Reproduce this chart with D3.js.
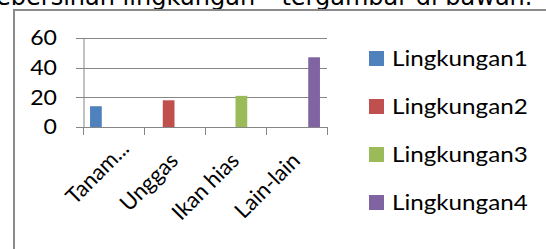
<!DOCTYPE html>
<html>
<head>
<meta charset="utf-8">
<script src="https://cdn.jsdelivr.net/npm/d3@7"></script>
<style>
  body { margin: 0; background: #fff; }
  svg { display: block; }
</style>
</head>
<body>
<div id="chart"></div>
<script>
// chart data
const categories = ["Tanam...", "Unggas", "Ikan hias", "Lain-lain"];
const seriesNames = ["Lingkungan1", "Lingkungan2", "Lingkungan3", "Lingkungan4"];
const lingkungan1 = [14, null, null, null];
const lingkungan2 = [null, 18, null, null];
const lingkungan3 = [null, null, 21, null];
const lingkungan4 = [null, null, null, 47];
const yTicks = [0, 20, 40, 60];
const colors = ["#4f81bd", "#c0504d", "#9bbb59", "#8064a2"];
const captionText = "kebersihan lingkungan\"  tergambar di bawah.";

const width = 546, height = 249;
const plot = {left: 83, right: 327, top: 38, bottom: 127};
const font = "Lato, 'Open Sans', sans-serif";
const gridColor = "#868686";
// the source picture is a bit wider than tall, text gets stretched with it
const stretch = 1.1;

const series = [lingkungan1, lingkungan2, lingkungan3, lingkungan4];

const svg = d3.select("#chart").append("svg")
  .attr("width", width)
  .attr("height", height);

// caption of the page, cut off at the top
svg.append("text")
  .attr("x", -17)
  .attr("y", 5)
  .attr("font-family", "'DejaVu Sans', sans-serif")
  .attr("font-size", 24)
  .attr("fill", "#000")
  .style("white-space", "pre")
  .text(captionText);

// chart frame
svg.append("rect")
  .attr("x", 14)
  .attr("y", 10)
  .attr("width", 620)
  .attr("height", 320)
  .attr("fill", "none")
  .attr("stroke", "#8a8a8a")
  .attr("stroke-width", 2);

const x0 = d3.scaleBand()
  .domain(categories)
  .range([plot.left, plot.right]);

const x1 = d3.scaleBand()
  .domain(seriesNames)
  .range([0, x0.bandwidth()])
  .paddingOuter(0.6);

const y = d3.scaleLinear()
  .domain([0, 60])
  .range([plot.bottom, plot.top]);

// gridlines
svg.append("g")
  .selectAll("line")
  .data(yTicks)
  .enter().append("line")
  .attr("x1", plot.left - 7)
  .attr("x2", plot.right)
  .attr("y1", d => Math.round(y(d)) + 0.5)
  .attr("y2", d => Math.round(y(d)) + 0.5)
  .attr("stroke", gridColor)
  .attr("stroke-width", 1);

// y axis line, labels drawn below so they can be stretched
const yAxis = svg.append("g")
  .attr("transform", `translate(${plot.left + 0.5},0)`)
  .call(d3.axisLeft(y).tickValues(yTicks).tickSize(0).tickFormat(""));
yAxis.select(".domain").attr("stroke", gridColor);

svg.append("g")
  .selectAll("text")
  .data(yTicks)
  .enter().append("text")
  .attr("transform", d => `translate(57,${y(d)}) scale(${stretch},1)`)
  .attr("text-anchor", "end")
  .attr("dy", "0.35em")
  .attr("font-family", font)
  .attr("font-size", 21)
  .attr("fill", "#000")
  .text(d3.format("d"));

// category tick marks
const boundaries = categories.map(c => x0(c)).concat([plot.right]);
svg.append("g")
  .selectAll("line")
  .data(boundaries)
  .enter().append("line")
  .attr("x1", d => Math.round(d) + 0.5)
  .attr("x2", d => Math.round(d) + 0.5)
  .attr("y1", plot.bottom)
  .attr("y2", plot.bottom + 8)
  .attr("stroke", gridColor);

// bars
const groups = svg.append("g")
  .selectAll("g")
  .data(series)
  .enter().append("g")
  .attr("fill", (d, i) => colors[i]);

groups.selectAll("rect")
  .data((values, i) => values.map((v, j) => ({value: v, category: categories[j], name: seriesNames[i]}))
    .filter(d => d.value != null))
  .enter().append("rect")
  .attr("x", d => x0(d.category) + x1(d.name))
  .attr("y", d => y(d.value))
  .attr("width", x1.bandwidth())
  .attr("height", d => y(0) - y(d.value));

// rotated category labels
svg.append("g")
  .selectAll("text")
  .data(categories)
  .enter().append("text")
  .attr("transform", d => {
    // the truncated label sits further up its slot
    const shift = d.endsWith("...") ? 12 : 0;
    const cx = x0(d) + x0.bandwidth() / 2 + 5 + shift;
    const cy = 162 - shift;
    return `translate(${cx},${cy}) rotate(-45)`;
  })
  .attr("text-anchor", "end")
  .attr("font-family", font)
  .attr("font-size", 22)
  .attr("fill", "#000")
  .text(d => d);

// legend
const legend = svg.append("g")
  .selectAll("g")
  .data(seriesNames)
  .enter().append("g")
  .attr("transform", (d, i) => `translate(369,${58.5 + i * 48})`);

legend.append("rect")
  .attr("x", 0)
  .attr("y", -7.5)
  .attr("width", 15)
  .attr("height", 15)
  .attr("fill", (d, i) => colors[i]);

legend.append("text")
  .attr("transform", `translate(23,0) scale(${stretch},1)`)
  .attr("dy", "0.35em")
  .attr("font-family", font)
  .attr("font-size", 22)
  .attr("fill", "#000")
  .text(d => d);
</script>
</body>
</html>
